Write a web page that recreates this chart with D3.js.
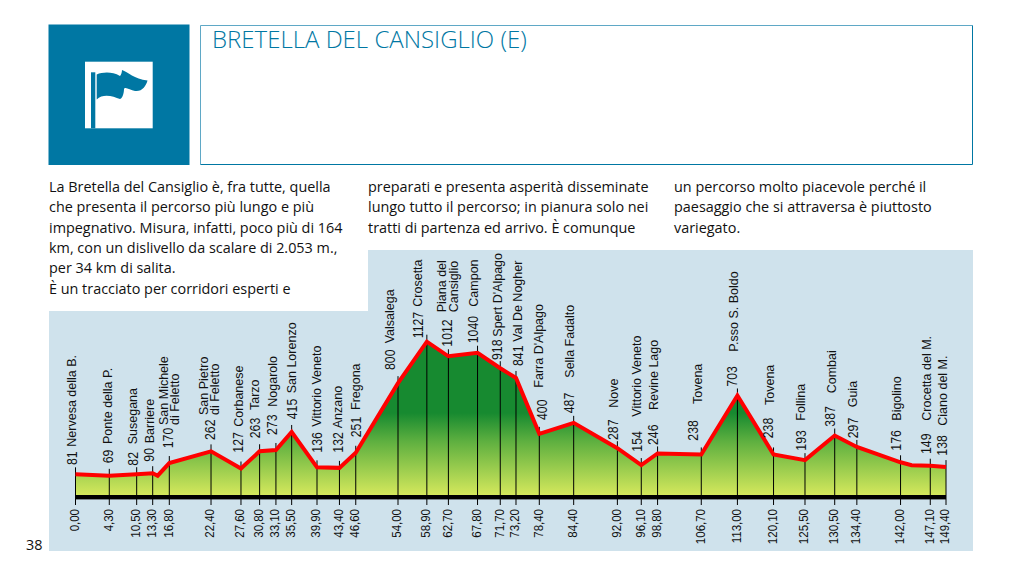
<!DOCTYPE html>
<html lang="it">
<head>
<meta charset="UTF-8">
<title>Bretella del Cansiglio</title>
<style>
    html, body { margin: 0; padding: 0; background: #fff; }
    svg { display: block; }
    .copy { font-family: "Open Sans", sans-serif; font-size: 14.4px; fill: #111; }
    .lab { font-family: "Liberation Sans", Arial, sans-serif; font-size: 12.5px; fill: #111; }
    .num { font-size: 14px; }
</style>
</head>
<body>
<svg width="1020" height="574"></svg>
<script src="https://d3js.org/d3.v7.min.js"></script>
<script>
    /* data */
    const tickLabels = ["0,00","4,30","10,50","13,30","16,80","22,40","27,60","30,80","33,10","35,50","39,90","43,40","46,60",
        "54,00","58,90","62,70","67,80","71,70","73,20","78,40","84,40","92,00","96,10","98,80",
        "106,70","113,00","120,10","125,50","130,50","134,40","142,00","147,10","149,40"];
    // where each place sits along the drawn axis (the printed km are not to scale)
    const axisKm = [0,5.8,10.5,13.25,16.1,23.26,28.4,31.6,34.4,37.1,41.45,45.3,48.1,
        55.35,60.3,64,69,72.9,75.6,79.6,85.5,93,97.1,99.9,
        107.4,113.6,119.8,125.2,130.3,134.1,141.6,146.7,149.4];
    const elevations = [81,69,82,90,170,262,127,263,273,415,136,132,251,
        800,1127,1012,1040,918,841,400,487,287,154,246,
        238,703,238,193,387,297,176,149,138];
    const places = ["Nervesa della B.","Ponte della P.","Susegana","Barriere","San Michele|di Feletto","San Pietro|di Feletto","Corbanese","Tarzo","Nogarolo","San Lorenzo","Vittorio Veneto","Anzano","Fregona",
        "Valsalega","Crosetta","Piana del|Cansiglio","Campon","Spert D'Alpago","Val De Nogher","Farra D'Alpago","Sella Fadalto","Nove","Vittorio Veneto","Revine Lago",
        "Tovena","P.sso S. Boldo","Tovena","Follina","Combai","Guia","Bigolino","Crocetta del M.","Ciano del M."];
    // unnamed bends in the profile
    const bendKm = [14.1, 143.5];
    const bendElev = [70, 153];

    const bodyColumns = [
        {x: 49, lines: ["La Bretella del Cansiglio è, fra tutte, quella","che presenta il percorso più lungo e più","impegnativo. Misura, infatti, poco più di 164","km, con un dislivello da scalare di 2.053 m.,","per 34 km di salita.","È un tracciato per corridori esperti e"]},
        {x: 368, lines: ["preparati e presenta asperità disseminate","lungo tutto il percorso; in pianura solo nei","tratti di partenza ed arrivo. È comunque"]},
        {x: 674, lines: ["un percorso molto piacevole perché il","paesaggio che si attraversa è piuttosto","variegato."]}
    ];

    /* layout */
    // hand placed labels: number x, number bottom, name x, name bottom
    const labelLayout = [
        [71.7,465,71.7,446.7],[108,463.3,108,444],[133,465.7,133,444.3],[149.3,461.7,149.3,443.3],[168.3,448.3,163.3,425],
        [210,440,203.3,415],[238.3,452.7,238.3,426.7],[255,438.3,255,410],[272.3,435,272.3,406.7],[291.7,419.3,291.7,393.3],
        [316.7,452.7,316.7,426.7],[337.7,452.7,337.7,428.3],[356,437.3,356,410],
        [390,370,390,343.3],[417.7,338.3,417.7,306.7],[446.7,346.7,441.7,312.3],[473.3,343.3,473.3,306.7],[497.3,360,497.3,336.7],[517.7,366,517.7,341.7],
        [541.7,420,539,387.7],[569,413.3,570,377.7],[613.3,440,613.3,407.7],[636.7,451.7,636.7,416.7],[653.3,445,653.3,410],
        [693.3,440.7,697.3,404],[732.3,386.7,734,351.7],[768.3,438.3,770,405],[801,450.7,801,420.7],[830,426.7,831.7,393.3],[852.7,438.3,853,407.3],
        [896,450.7,897,420.7],[925.7,454,926.7,420.7],[942.3,455.7,942.3,425.7]
    ];
    const blue = "#0077a3";
    const panel = "#cfe2ec";
    const barTop = 495, barHeight = 4.4, tickBottom = 505, tickTextTop = 509;

    const svg = d3.select("svg");
    const x = d3.scaleLinear().domain([0, 149.4]).range([75.5, 946]);
    const y = d3.scaleLinear().domain([0, 1127]).range([484.6, 341.7]);

    /* header */
    svg.append("rect").attr("x", 48.5).attr("y", 24.5).attr("width", 141).attr("height", 140.5).attr("fill", blue);
    svg.append("rect").attr("x", 85).attr("y", 61.7).attr("width", 67.7).attr("height", 66.6).attr("fill", "#fff");
    svg.append("rect").attr("x", 91).attr("y", 72.3).attr("width", 4.3).attr("height", 56).attr("fill", blue);
    svg.append("path").attr("fill", blue)
        .attr("d", "M96.7,74.5 C103,72 112,71.5 120,76 C121,75 122,72 122,70 C128,72 134,79 147.5,80.5 C146,86 142,92 135,91 C130,90 125,86 124,89 C124,92 123,98 120,99 C113,96 103,93 96.7,99.5 Z");
    svg.append("path").attr("fill", "none").attr("stroke", "#5fa8c6")
        .attr("d", "M972.5,25.5 H200.5 V164.5");
    svg.append("path").attr("fill", "none").attr("stroke", blue)
        .attr("d", "M200.5,164.5 H972.5 V25.5");
    svg.append("text").attr("x", 212).attr("y", 48).attr("fill", blue)
        .attr("font-family", "'Open Sans', sans-serif").attr("font-weight", 350).attr("font-size", 24).text("BRETELLA DEL CANSIGLIO (E)");

    /* panel behind the profile */
    svg.append("path").attr("fill", panel)
        .attr("d", "M49,311 H368 V250 H973 V551 H49 Z");

    /* body text */
    bodyColumns.forEach((col) => {
        svg.append("g").selectAll("text").data(col.lines).enter().append("text")
            .attr("class", "copy")
            .attr("x", col.x)
            .attr("y", (d, i) => 192 + i * 20.3)
            .text((d) => d);
    });
    svg.append("text").attr("class", "copy").attr("x", 26).attr("y", 550).text("38");

    /* profile */
    const profile = axisKm.map((km, i) => ({km: km, elev: elevations[i]}))
        .concat(bendKm.map((km, i) => ({km: km, elev: bendElev[i]})))
        .sort((a, b) => a.km - b.km);

    const defs = svg.append("defs");
    const grad = defs.append("linearGradient").attr("id", "relief")
        .attr("gradientUnits", "userSpaceOnUse")
        .attr("x1", 0).attr("x2", 0).attr("y1", 413).attr("y2", barTop);
    grad.append("stop").attr("offset", 0).attr("stop-color", "#178a30");
    grad.append("stop").attr("offset", 0.35).attr("stop-color", "#5fb040");
    grad.append("stop").attr("offset", 1).attr("stop-color", "#d4e85c");

    svg.append("path").datum(profile)
        .attr("fill", "url(#relief)")
        .attr("d", d3.area().x((d) => x(d.km)).y0(barTop + 1).y1((d) => y(d.elev)));

    /* drop lines */
    svg.append("g").selectAll("line").data(axisKm).enter().append("line")
        .attr("x1", (d) => x(d)).attr("x2", (d) => x(d))
        .attr("y1", (d, i) => y(elevations[i]) - 7)
        .attr("y2", tickBottom)
        .attr("stroke", "#000").attr("stroke-width", 1);

    svg.append("path").datum(profile)
        .attr("fill", "none").attr("stroke", "#f00").attr("stroke-width", 4)
        .attr("d", d3.line().x((d) => x(d.km)).y((d) => y(d.elev)));

    svg.append("rect").attr("x", x(0)).attr("y", barTop)
        .attr("width", x(149.4) - x(0)).attr("height", barHeight).attr("fill", "#000");

    /* km labels */
    svg.append("g").selectAll("text").data(tickLabels).enter().append("text")
        .attr("class", "lab")
        .attr("text-anchor", "end")
        .attr("dy", "0.35em")
        .attr("transform", (d, i) => `translate(${x(axisKm[i]) - 1},${tickTextTop}) rotate(-90) scale(0.92,1)`)
        .text((d) => d);

    /* elevation and place labels */
    const rotated = (px, py, txt, cls, squeeze) => svg.append("text")
        .attr("class", cls)
        .attr("dy", "0.35em")
        .attr("transform", `translate(${px},${py}) rotate(-90) scale(${squeeze},1)`)
        .text(txt);

    elevations.forEach((elev, i) => {
        const pos = labelLayout[i];
        rotated(pos[0], pos[1], elev, "lab num", 0.88);
        places[i].split("|").forEach((part, j) => {
            rotated(pos[2] + j * 11.5, pos[3], part, "lab", 1);
        });
    });
</script>
</body>
</html>
